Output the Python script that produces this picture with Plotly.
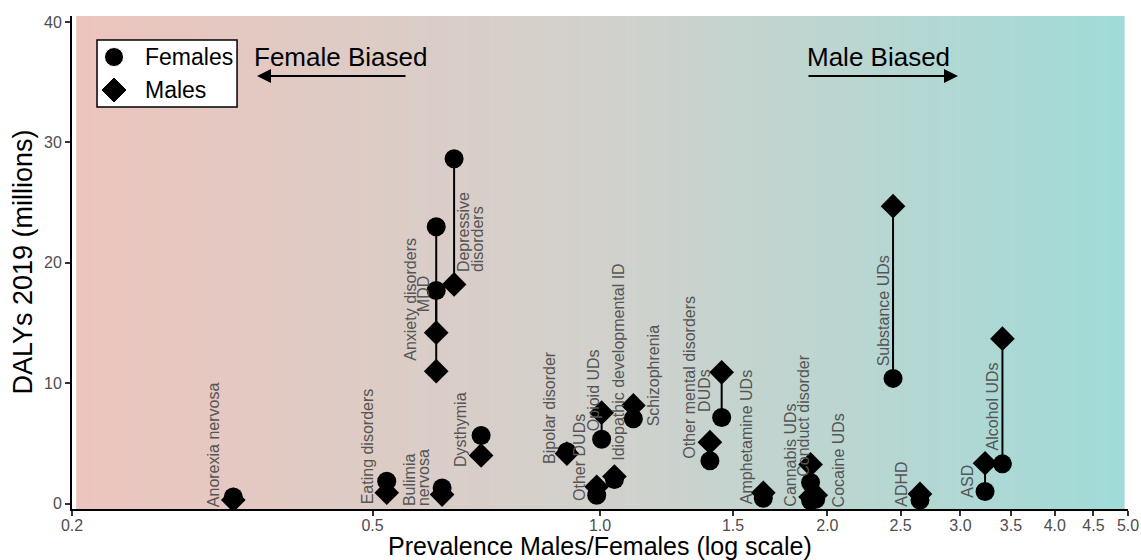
import math
import plotly.graph_objects as go

# ---------------- data ----------------
disorders = [
    "Anorexia nervosa", "Eating disorders", "Bulimia nervosa", "Anxiety disorders",
    "MDD", "Depressive disorders", "Dysthymia", "Bipolar disorder", "Other DUDs",
    "Opioid UDs", "Idiopathic developmental ID", "Schizophrenia",
    "Other mental disorders", "DUDs", "Amphetamine UDs", "Cannabis UDs",
    "Conduct disorder", "Cocaine UDs", "Substance UDs", "ADHD", "ASD", "Alcohol UDs",
]
prevalence_ratio = [0.327, 0.522, 0.618, 0.607, 0.607, 0.641, 0.696, 0.904, 0.990,
                    1.005, 1.045, 1.107, 1.398, 1.449, 1.645, 1.90, 1.90, 1.93,
                    2.443, 2.652, 3.234, 3.41]
dalys_females = [0.55, 1.85, 1.3, 17.7, 23.0, 28.65, 5.65, 4.3, 0.7,
                 5.35, 2.0, 7.05, 3.55, 7.15, 0.45, 0.25, 1.75, 0.35,
                 10.4, 0.3, 1.0, 3.3]
dalys_males = [0.3, 0.9, 0.75, 11.0, 14.2, 18.2, 4.0, 4.15, 1.4,
               7.55, 2.25, 8.15, 5.1, 10.9, 0.9, 0.55, 3.25, 0.7,
               24.7, 0.8, 3.35, 13.7]

# label lines and label anchor (bottom-centre) in data units
label_lines = {
    "Bulimia nervosa": ["Bulimia", "nervosa"],
    "Depressive disorders": ["Depressive", "disorders"],
}
label_x = [0.308, 0.492, 0.572, 0.561, 0.584, 0.673, 0.655, 0.857, 0.941,
           0.980, 1.058, 1.177, 1.316, 1.377, 1.561, 1.785, 1.858, 2.068,
           2.376, 2.504, 3.068, 3.31]
label_y = [-0.37, -0.12, -0.27, 11.77, 15.78, 19.15, 2.92, 3.2, 0.1,
           5.96, 3.47, 6.37, 3.61, 7.57, -0.12, -0.37, 2.12, -0.37,
           11.35, -0.37, 0.43, 4.3]

x_ticks = [0.2, 0.5, 1.0, 1.5, 2.0, 2.5, 3.0, 3.5, 4.0, 4.5, 5.0]
x_ticklabels = ["0.2", "0.5", "1.0", "1.5", "2.0", "2.5", "3.0", "3.5", "4.0", "4.5", "5.0"]
y_ticks = [0, 10, 20, 30, 40]
legend_names = ["Females", "Males"]

X_RANGE = [math.log10(0.2), math.log10(5.0)]
Y_RANGE = [-0.45, 40.5]

# ---------------- figure ----------------
FONT = "Liberation Sans, Arial, Helvetica, sans-serif"
fig = go.Figure()

# background gradient (pink -> grey -> teal)
stops = [(0.0, (236, 197, 189)), (0.5, (210, 209, 204)), (1.0, (160, 219, 215))]


def grad(t):
    for (t0, c0), (t1, c1) in zip(stops[:-1], stops[1:]):
        if t <= t1:
            f = (t - t0) / (t1 - t0)
            return tuple(round(a + (b - a) * f) for a, b in zip(c0, c1))
    return stops[-1][1]


n = 200
x0p, x1p = 0.004, 0.996
shapes = []
for i in range(n):
    a = x0p + (x1p - x0p) * i / n
    b = x0p + (x1p - x0p) * (i + 1) / n + 0.0008
    c = grad((i + 0.5) / n)
    shapes.append(dict(type="rect", xref="paper", yref="paper", x0=a, x1=b, y0=0, y1=1,
                       fillcolor=f"rgb{c}", line=dict(width=0), layer="below"))

# legend box (drawn manually, ggplot-style), positions as plot-area fractions
LEG_X0, LEG_X1, LEG_Y0, LEG_Y1 = 0.0237, 0.1563, 0.8154, 0.9513
shapes.append(dict(type="rect", xref="paper", yref="paper", x0=LEG_X0, x1=LEG_X1,
                   y0=LEG_Y0, y1=LEG_Y1, fillcolor="white",
                   line=dict(color="black", width=1.5), layer="below"))
legend_key_frac_x = 0.0398
legend_text_frac_x = 0.0672
legend_rows_frac_y = [0.9168, 0.8499]


def frac_to_x(f):
    return 10 ** (X_RANGE[0] + f * (X_RANGE[1] - X_RANGE[0]))


def frac_to_y(f):
    return Y_RANGE[0] + f * (Y_RANGE[1] - Y_RANGE[0])


# connecting segments
seg_x, seg_y = [], []
for r, f, m in zip(prevalence_ratio, dalys_females, dalys_males):
    seg_x += [r, r, None]
    seg_y += [f, m, None]
fig.add_trace(go.Scatter(x=seg_x, y=seg_y, mode="lines", line=dict(color="black", width=2),
                         showlegend=False, hoverinfo="skip"))

fig.add_trace(go.Scatter(x=prevalence_ratio, y=dalys_females, mode="markers", name="Females",
                         marker=dict(symbol="circle", size=19, color="black"),
                         text=disorders, showlegend=False))
fig.add_trace(go.Scatter(x=prevalence_ratio, y=dalys_males, mode="markers", name="Males",
                         marker=dict(symbol="diamond", size=19, color="black"),
                         text=disorders, showlegend=False))

# legend keys
fig.add_trace(go.Scatter(x=[frac_to_x(legend_key_frac_x)] * 2,
                         y=[frac_to_y(v) for v in legend_rows_frac_y], mode="markers",
                         showlegend=False, hoverinfo="skip", cliponaxis=False,
                         marker=dict(symbol=["circle", "diamond"], size=[19, 20],
                                     color="black", opacity=1)))

annotations = []
LINE_GAP = 14
for d, lx, ly in zip(disorders, label_x, label_y):
    lines = label_lines.get(d, [d])
    k = len(lines)
    for j, ln in enumerate(lines):
        annotations.append(dict(x=math.log10(lx), y=ly, xref="x", yref="y",
                                text=ln, showarrow=False, textangle=-90,
                                xanchor="center", yanchor="bottom", borderpad=0,
                                xshift=(j - (k - 1) / 2) * LINE_GAP,
                                font=dict(family=FONT, size=16, color="#555555")))

for name, ly in zip(legend_names, legend_rows_frac_y):
    annotations.append(dict(xref="paper", yref="paper", x=legend_text_frac_x, y=ly, text=name,
                            showarrow=False, xanchor="left", yanchor="middle",
                            font=dict(family=FONT, size=23, color="black")))

# bias arrows and texts
annotations += [
    dict(xref="paper", yref="paper", x=0.2543, y=0.917, text="Female Biased", showarrow=False,
         xanchor="center", yanchor="middle", font=dict(family=FONT, size=26, color="black")),
    dict(xref="paper", yref="paper", x=0.1752, y=0.8783, text="", showarrow=True,
         axref="pixel", ayref="pixel", ax=150, ay=0, arrowhead=2, arrowsize=1.4,
         arrowwidth=2, arrowcolor="black"),
    dict(xref="paper", yref="paper", x=0.7637, y=0.917, text="Male Biased", showarrow=False,
         xanchor="center", yanchor="middle", font=dict(family=FONT, size=26, color="black")),
    dict(xref="paper", yref="paper", x=0.839, y=0.8783, text="", showarrow=True,
         axref="pixel", ayref="pixel", ax=-151, ay=0, arrowhead=2, arrowsize=1.4,
         arrowwidth=2, arrowcolor="black"),
    # axis titles
    dict(xref="paper", yref="paper", x=0.5, y=-0.1055, text="Prevalence Males/Females (log scale)",
         showarrow=False, xanchor="center", yanchor="bottom", borderpad=0,
         font=dict(family=FONT, size=25, color="black")),
    dict(xref="paper", yref="paper", x=-0.0473, y=0.5, text="DALYs 2019 (millions)",
         showarrow=False, xanchor="center", yanchor="middle", textangle=-90,
         font=dict(family=FONT, size=27, color="black")),
]

fig.update_layout(
    width=1141, height=560,
    margin=dict(l=72, r=13, t=16, b=51),
    paper_bgcolor="white", plot_bgcolor="white",
    font=dict(family=FONT),
    shapes=shapes,
    annotations=annotations,
    showlegend=False,
    xaxis=dict(type="log", range=X_RANGE,
               tickvals=x_ticks, ticktext=x_ticklabels, automargin=False,
               ticks="outside", ticklen=5, tickwidth=1.5, tickcolor="#333333",
               ticklabelstandoff=-4,
               showline=True, linecolor="black", linewidth=2, showgrid=False, zeroline=False,
               tickfont=dict(size=16, color="#4d4d4d")),
    yaxis=dict(range=Y_RANGE, tickvals=y_ticks, automargin=False,
               ticks="outside", ticklen=5, tickwidth=1.5, tickcolor="#333333",
               showline=True, linecolor="black", linewidth=2, showgrid=False, zeroline=False,
               tickfont=dict(size=16, color="#4d4d4d")),
)

fig.write_html("out.html")
